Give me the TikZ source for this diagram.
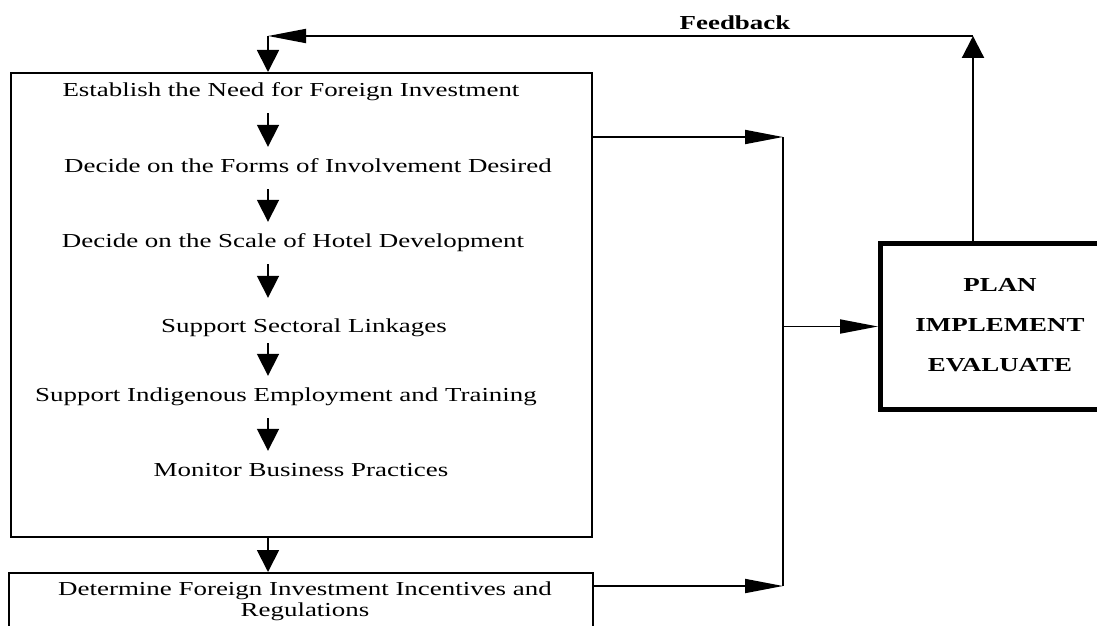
\documentclass[tikz,border=0pt]{standalone}
\usepackage{fontspec}
\setmainfont{Liberation Serif}[FakeStretch=1.36]
\usetikzlibrary{arrows.meta}
\tikzset{
  lbl/.style={inner xsep=0pt, inner ysep=13pt, text height=12pt, text depth=4pt, font=\fontsize{19.8}{23}\selectfont},
  blk/.style={draw, line width=2pt, inner sep=0pt},
  varrow/.style={line width=1.8pt, -{Triangle[length=22pt,width=22pt]}},
  harrow/.style={line width=1.8pt, -{Triangle[length=38pt,width=14pt]}},
  caps/.style={font=\bfseries\fontsize{19.8}{23}\selectfont, inner sep=0pt},
}
\begin{document}
\begin{tikzpicture}[x=1pt,y=-1pt]
\useasboundingbox (0,0) rectangle (1097,626);
\clip (0,0) rectangle (1097,626);
% boxes
\node[blk, anchor=north west, minimum width=581pt, minimum height=464pt] (main) at (10,72) {};
\node[blk, anchor=north west, minimum width=584pt, minimum height=80pt] (bot) at (8,572) {};
\node[draw, line width=5pt, anchor=north west, minimum width=250pt, minimum height=166pt, inner sep=0pt] (pie) at (878,241) {};
% texts in main box
\node[lbl] (t1) at (291,92) {Establish the Need for Foreign Investment};
\node[lbl] (t2) at (308,168) {Decide on the Forms of Involvement Desired};
\node[lbl] (t3) at (293,243) {Decide on the Scale of Hotel Development};
\node[lbl] (t4) at (304,328) {Support Sectoral Linkages};
\node[lbl] (t5) at (286,397) {Support Indigenous Employment and Training};
\node[lbl] (t6) at (301,472) {Monitor Business Practices};
\node[font=\fontsize{19.8}{21}\selectfont, align=center, inner sep=0pt] (t7) at (305,601) {Determine Foreign Investment Incentives and\\Regulations};
% right box text
\node[caps] (p1) at (1000,285) {PLAN};
\node[caps] (p2) at (1000,325) {IMPLEMENT};
\node[caps] (p3) at (1000,365) {EVALUATE};
\node[caps] (fb) at (735,23) {Feedback};
% coordinates
\coordinate (ax) at (268,0);
\coordinate (bus1) at (783,137);
\coordinate (bus2) at (783,586);
\coordinate (fb1) at (973,36);
\coordinate (fb2) at (268,36);
% inner arrows
\draw[varrow] (t1.south -| ax) -- (t2.north -| ax);
\draw[varrow] (t2.south -| ax) -- (t3.north -| ax);
\draw[varrow, shorten >=9pt] (t3.south -| ax) -- (t4.north -| ax);
\draw[varrow, shorten <=-6pt] (t4.south -| ax) -- (t5.north -| ax);
\draw[varrow] (t5.south -| ax) -- (t6.north -| ax);
\draw[varrow] (main.south -| ax) -- (bot.north -| ax);
% bus connectors
\draw[harrow] (bus1 -| main.east) -- (bus1);
\draw[harrow] (bus2 -| bot.east) -- (bus2);
\draw[line width=2.6pt] (bus1) -- (bus2);
\draw[harrow] (bus1 |- pie.west) -- (pie.west);
% feedback loop
\draw[varrow, line width=2.2pt] (pie.north -| fb1) -- (fb1);
\draw[harrow] (fb1) -- (fb2);
\draw[varrow] (fb2) -- (main.north -| fb2);
\end{tikzpicture}
\end{document}
